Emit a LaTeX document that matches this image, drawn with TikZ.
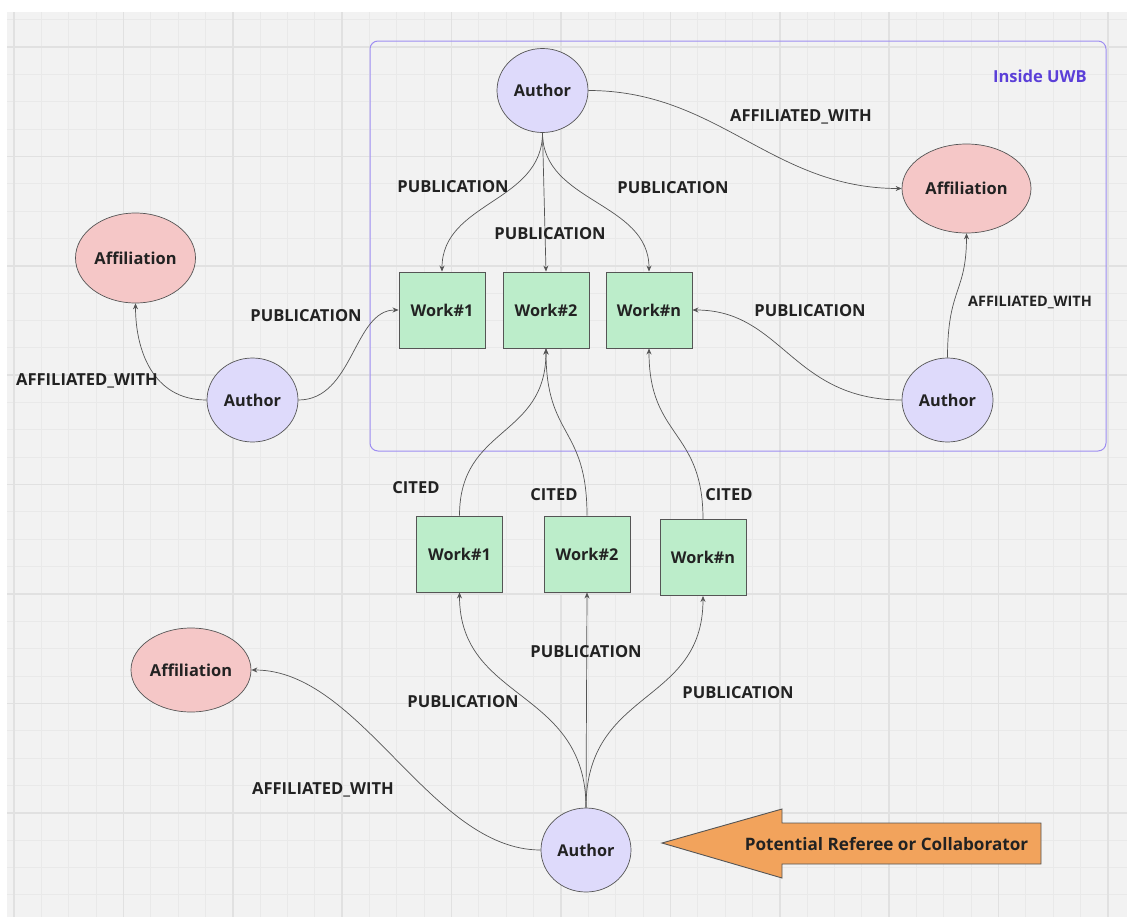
\documentclass[tikz,border=0pt]{standalone}
\usepackage{fontspec}
\setmainfont{Open Sans}
\usetikzlibrary{shapes.geometric,arrows.meta,calc}
\definecolor{bggray}{HTML}{F2F2F2}
\definecolor{gridminor}{HTML}{E9E9E9}
\definecolor{gridmajor}{HTML}{E1E1E1}
\definecolor{authorfill}{HTML}{DEDAFB}
\definecolor{afffill}{HTML}{F5C7C7}
\definecolor{workfill}{HTML}{BCEDCA}
\definecolor{orangefill}{HTML}{F2A35C}
\definecolor{boxline}{HTML}{9D8DF1}
\definecolor{uwbtext}{HTML}{5B3FD8}
\definecolor{edgecol}{HTML}{555555}
\definecolor{strokecol}{HTML}{555555}
\definecolor{txt}{HTML}{222222}
\tikzset{
  author/.style={ellipse,draw=strokecol,line width=0.7bp,fill=authorfill,minimum width=91bp,minimum height=84bp,inner sep=0pt,font=\fontsize{16.3}{18}\selectfont\bfseries,text=txt},
  affil/.style={ellipse,draw=strokecol,line width=0.7bp,fill=afffill,inner sep=0pt,font=\fontsize{16.5}{18}\selectfont\bfseries,text=txt},
  work/.style={rectangle,draw=strokecol,line width=0.9bp,fill=workfill,minimum width=86bp,minimum height=76bp,inner sep=0pt,font=\fontsize{16.3}{18}\selectfont\bfseries,text=txt},
  elabel/.style={font=\fontsize{16.6}{18}\selectfont\bfseries,text=txt,inner sep=0pt},
  slabel/.style={font=\fontsize{14.5}{16}\selectfont\bfseries,text=txt,inner sep=0pt},
  conn/.style={draw=edgecol,line width=0.7bp,-{Stealth[length=6bp,width=5bp]}},
}
\begin{document}
\begin{tikzpicture}[x=1bp,y=-1bp]
\useasboundingbox (0,0) rectangle (1127,917);
\fill[white] (0,0) rectangle (1127,917);
\fill[bggray] (7,12) rectangle (1127,917);
% grid
\foreach \i in {0,...,40} {
  \draw[gridminor,line width=1bp] ({14+27.35*\i},12) -- ({14+27.35*\i},917);
}
\foreach \i in {0,...,33} {
  \draw[gridminor,line width=1bp] (7,{19.65+27.35*\i}) -- (1127,{19.65+27.35*\i});
}
\foreach \i in {0,...,10} {
  \draw[gridmajor,line width=1.5bp] ({14+109.4*\i},12) -- ({14+109.4*\i},917);
}
\foreach \i in {0,...,7} {
  \draw[gridmajor,line width=1.5bp] (7,{47+109.4*\i}) -- (1127,{47+109.4*\i});
}
% container
\draw[boxline,line width=1bp,rounded corners=8bp] (370,41) rectangle (1106,451);
\node[font=\fontsize{16.6}{18}\selectfont\bfseries,text=uwbtext,anchor=east,inner sep=0pt] (uwb) at (1087,76) {Inside UWB};

% nodes
\node[author] (A1) at (542.5,90.5) {Author};
\node[affil,minimum width=129bp,minimum height=89bp] (F1) at (966.5,188.5) {Affiliation};
\node[author] (A3) at (947.5,400) {Author};
\node[work] (T1) at (442,310) {Work\#1};
\node[work] (T2) at (546,310) {Work\#2};
\node[work] (T3) at (649,310) {Work\#n};
\node[affil,minimum width=120bp,minimum height=90bp] (F2) at (135.5,258) {Affiliation};
\node[author] (A2) at (252.5,400) {Author};
\node[work] (M1) at (459.5,554) {Work\#1};
\node[work] (M2) at (587,554) {Work\#2};
\node[work] (M3) at (703,557.5) {Work\#n};
\node[affil,minimum width=120bp,minimum height=84bp] (F3) at (191,670) {Affiliation};
\node[author,minimum width=90bp] (A4) at (586,850) {Author};

% orange arrow
\draw[strokecol,line width=0.9bp,fill=orangefill] (662,843) -- (782,809) -- (782,823) -- (1041,823) -- (1041,864) -- (782,864) -- (782,878) -- cycle;
\node[font=\fontsize{17.2}{19}\selectfont\bfseries,text=txt,inner sep=0pt] (ref) at (886.5,844) {Potential Referee or Collaborator};

% connectors
\draw[conn] (A1.south) .. controls +(0,70) and +(0,-70) .. (T1.north);
\draw[conn] (A1.south) -- (T2.north);
\draw[conn] (A1.south) .. controls +(0,70) and +(0,-70) .. (T3.north);
\draw[conn] (A1.east) .. controls +(130,0) and +(-130,0) .. (F1.west);
\draw[conn] (A3.north) .. controls +(0,-70) and +(0,60) .. (F1.south);
\draw[conn] (A3.west) .. controls +(-110,0) and +(90,0) .. (T3.east);
\draw[conn] (A2.east) .. controls +(55,0) and +(-45,0) .. (T1.west);
\draw[conn] (A2.west) .. controls +(-55,0) and +(0,45) .. (F2.south);
\draw[conn] (M1.north) .. controls +(0,-90) and +(0,90) .. (T2.south);
\draw[conn] (M2.north) .. controls +(0,-90) and +(0,90) .. (T2.south);
\draw[conn] (M3.north) .. controls +(0,-90) and +(0,90) .. (T3.south);
\draw[conn] (A4.north) .. controls +(0,-120) and +(0,110) .. (M1.south);
\draw[conn] (A4.north) -- (M2.south);
\draw[conn] (A4.north) .. controls +(0,-120) and +(0,110) .. (M3.south);
\draw[conn] (A4.west) .. controls +(-110,0) and +(110,0) .. (F3.east);

% labels
\node[elabel] (l1) at (453,187) {PUBLICATION};
\node[elabel] (l2) at (550,234) {PUBLICATION};
\node[elabel] (l3) at (673,188) {PUBLICATION};
\node[elabel] (l4) at (801,117) {AFFILIATED\_WITH};
\node[slabel] (l5) at (1030,302) {AFFILIATED\_WITH};
\node[elabel] (l6) at (810,311) {PUBLICATION};
\node[elabel] (l7) at (306,316) {PUBLICATION};
\node[elabel] (l8) at (87,381) {AFFILIATED\_WITH};
\node[elabel] (l9) at (416,488) {CITED};
\node[elabel] (l10) at (554,495) {CITED};
\node[elabel] (l11) at (729,495) {CITED};
\node[elabel] (l12) at (463,702) {PUBLICATION};
\node[elabel] (l13) at (586,652) {PUBLICATION};
\node[elabel] (l14) at (738,693) {PUBLICATION};
\node[elabel] (l15) at (323,790) {AFFILIATED\_WITH};
\end{tikzpicture}
\end{document}
